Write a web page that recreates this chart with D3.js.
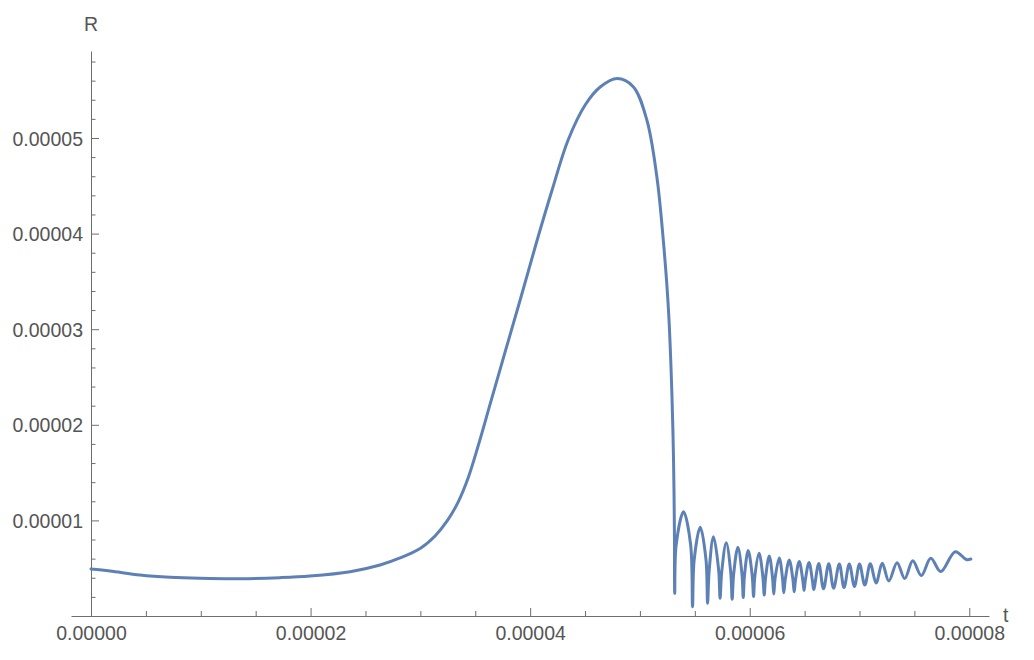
<!DOCTYPE html>
<html>
<head>
<meta charset="utf-8">
<script src="https://cdn.jsdelivr.net/npm/d3@7"></script>
<style>
  html, body { margin: 0; padding: 0; background: #fff; }
  svg { display: block; }
  text { font-family: "Liberation Sans", Arial, Helvetica, sans-serif; }
</style>
</head>
<body>
<svg id="chart" width="1034" height="660"></svg>
<script>
// ---- data (t in microseconds, R in units of 1e-6) ----
const tMicro = [
  0, 1.73, 4.46, 7.20, 9.93, 13.58, 17.22, 19.95, 23.60, 26.33, 28.15, 29.98, 31.34, 32.44,
  33.44, 34.35, 35.26, 36.36, 37.72, 39.09, 40.64, 42.00, 43.46, 45.01, 46.38,
  47.93, 49.39, 50.63, 51.54, 52.15, 52.60, 52.91, 53.06, 53.14, 53.17,
  53.30, 53.97, 54.62, 54.79,
  54.94, 55.49, 56.02, 56.16,
  56.31, 56.70, 57.17, 57.30,
  57.45, 57.86, 58.27, 58.40,
  58.53, 58.92, 59.30, 59.41,
  59.52, 59.86, 60.23, 60.35,
  60.46, 60.85, 61.20, 61.32,
  61.44, 61.78, 62.08, 62.19,
  62.31, 62.69, 62.99, 63.10,
  63.24, 63.60, 63.93, 64.05,
  64.17, 64.51, 64.83, 64.95,
  65.06, 65.40, 65.71, 65.83,
  66.29, 66.72, 67.20, 67.64, 68.16, 68.59, 69.07, 69.54, 70.00, 70.48,
  70.98, 71.51, 72.07, 72.67, 73.42, 74.12, 74.85, 75.63, 76.49, 77.40,
  78.72, 79.73, 80.14
];
const rMicro = [
  4.92, 4.71, 4.29, 4.05, 3.94, 3.90, 4.01, 4.18, 4.63, 5.33, 6.07, 7.06, 8.37, 9.94,
  11.92, 14.44, 17.78, 22.18, 27.62, 33.05, 39.33, 44.56, 49.79, 53.45, 55.33,
  56.22, 55.37, 51.88, 45.95, 39.02, 32.01, 23.33, 16.32, 9.00, 2.37,
  7.43, 10.91, 7.43, 0.97,
  5.86, 9.28, 5.86, 1.33,
  4.81, 8.30, 4.81, 1.85,
  4.60, 7.67, 4.60, 1.75,
  4.29, 7.19, 4.29, 1.94,
  4.18, 6.85, 4.18, 2.04,
  4.08, 6.56, 4.08, 2.20,
  3.97, 6.28, 3.97, 2.30,
  3.92, 6.07, 3.92, 2.44,
  3.87, 5.86, 3.87, 2.54,
  3.77, 5.70, 3.77, 2.67,
  3.71, 5.60, 3.71, 2.77,
  5.49, 2.85, 5.46, 2.90, 5.44, 2.98, 5.44, 3.09, 5.44, 3.24,
  5.46, 3.45, 5.51, 3.66, 5.58, 3.92, 5.77, 4.24, 6.04, 4.65,
  6.73, 5.91, 5.96
];
const xMajorTicks = [0, 0.00002, 0.00004, 0.00006, 0.00008];
const xTickLabels = ["0.00000", "0.00002", "0.00004", "0.00006", "0.00008"];
const yMajorTicks = [0.00001, 0.00002, 0.00003, 0.00004, 0.00005];
const yTickLabels = ["0.00001", "0.00002", "0.00003", "0.00004", "0.00005"];
const xMinorStep = 0.000005;
const yMinorStep = 0.000002;
const xLabel = "t";
const yLabel = "R";

// ---- layout ----
const svg = d3.select("#chart");
const axisColor = "#6e6e6e";
const textColor = "#555555";
const lineColor = "#5E81B5";

const x = d3.scaleLinear().domain([-1.822e-6, 81.795e-6]).range([71, 989]);
const y = d3.scaleLinear().domain([0, 59.1e-6]).range([616, 51]);

const data = tMicro.map((t, i) => ({ t: t * 1e-6, r: rMicro[i] * 1e-6 }));

// minor ticks
const xMinor = d3.range(xMinorStep, 0.0000801, xMinorStep)
  .filter(v => !xMajorTicks.some(m => Math.abs(m - v) < 1e-9));
const yMinor = d3.range(yMinorStep, 0.0000585, yMinorStep)
  .filter(v => !yMajorTicks.some(m => Math.abs(m - v) < 1e-9));

// x axis
const gx = svg.append("g").attr("transform", `translate(0,${y(0)})`);
gx.call(d3.axisBottom(x).tickValues(xMinor).tickSizeInner(-5).tickSizeOuter(0).tickFormat(""));
const gx2 = svg.append("g").attr("transform", `translate(0,${y(0)})`);
gx2.call(d3.axisBottom(x).tickValues(xMajorTicks).tickSizeInner(-8).tickSizeOuter(0)
  .tickPadding(8).tickFormat((d, i) => xTickLabels[i]));
gx2.select(".domain").remove();

// y axis
const gy = svg.append("g").attr("transform", `translate(${x(0)},0)`);
gy.call(d3.axisLeft(y).tickValues(yMinor).tickSizeInner(-4.5).tickSizeOuter(0).tickFormat(""));
const gy2 = svg.append("g").attr("transform", `translate(${x(0)},0)`);
gy2.call(d3.axisLeft(y).tickValues(yMajorTicks).tickSizeInner(-8).tickSizeOuter(0)
  .tickPadding(8).tickFormat((d, i) => yTickLabels[i]));
gy2.select(".domain").remove();

svg.selectAll(".domain").attr("stroke", axisColor).attr("stroke-width", 1);
svg.selectAll(".tick line").attr("stroke", axisColor).attr("stroke-width", 1);
svg.selectAll(".tick text")
  .attr("fill", textColor)
  .style("font-size", "19.5px")
  .style("font-family", "'Liberation Sans', Arial, Helvetica, sans-serif");
gx2.selectAll(".tick text").attr("y", 10).attr("dy", "0.71em");
gy2.selectAll(".tick text").attr("x", -8).attr("dy", "0.36em");

// axis labels
svg.append("text").attr("x", x(0)).attr("y", 31).attr("text-anchor", "middle")
  .attr("fill", textColor).style("font-size", "19.5px").text(yLabel);
svg.append("text").attr("x", 1003).attr("y", 622).attr("text-anchor", "start")
  .attr("fill", textColor).style("font-size", "19.5px").text(xLabel);

// curve
const line = d3.line()
  .x(d => x(d.t))
  .y(d => y(d.r))
  .curve(d3.curveCatmullRom.alpha(0.5));

svg.append("path")
  .datum(data)
  .attr("d", line)
  .attr("fill", "none")
  .attr("stroke", lineColor)
  .attr("stroke-width", 3)
  .attr("stroke-linejoin", "round")
  .attr("stroke-linecap", "round");
</script>
</body>
</html>
